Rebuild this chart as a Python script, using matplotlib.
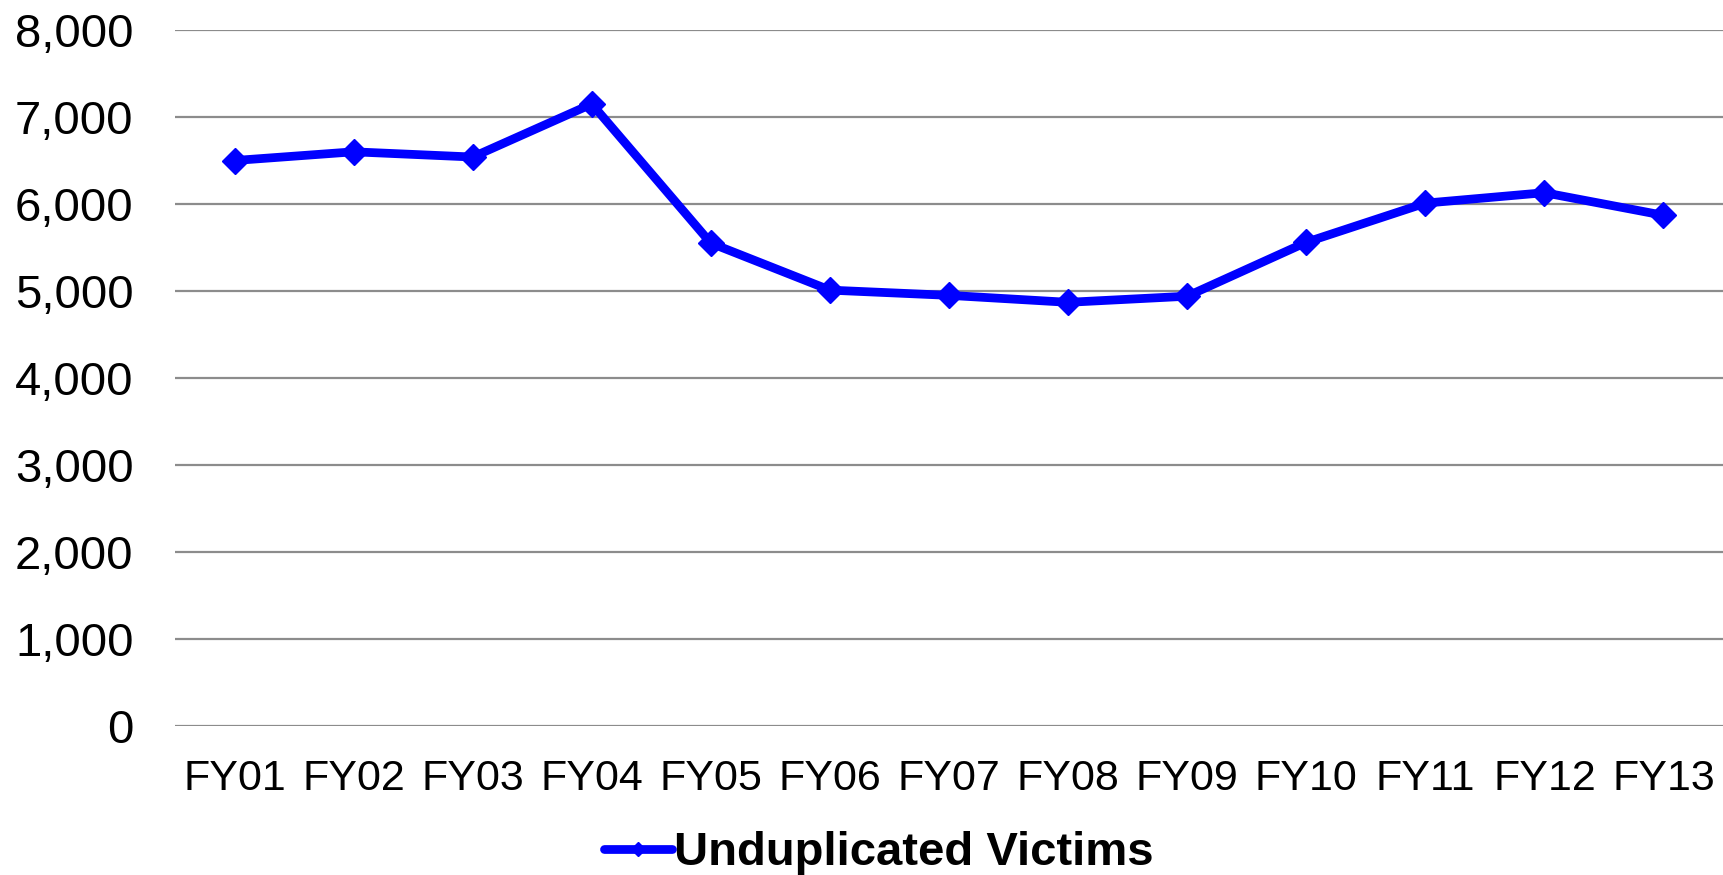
import matplotlib.pyplot as plt
from matplotlib.ticker import FuncFormatter

years = ['FY01', 'FY02', 'FY03', 'FY04', 'FY05', 'FY06', 'FY07',
         'FY08', 'FY09', 'FY10', 'FY11', 'FY12', 'FY13']
victims = [6500, 6600, 6540, 7150, 5550, 5010, 4950, 4870, 4940, 5560, 6010, 6130, 5870]

plt.rcParams['font.family'] = ['Liberation Sans', 'DejaVu Sans']

fig = plt.figure(figsize=(17.23, 8.75), dpi=100)
ax = fig.add_axes([0.1016, 0.1703, 0.8984, 0.7954])

x = list(range(len(years)))
ax.plot(x, victims, color='#0000ff', linewidth=6.3, marker='D', markersize=13.5,
        label='Unduplicated Victims', solid_joinstyle='round', solid_capstyle='round')

ax.set_xlim(-0.5, len(years) - 0.5)
ax.set_ylim(0, 8000)
ax.set_yticks(range(0, 8001, 1000))
ax.yaxis.set_major_formatter(FuncFormatter(lambda v, p: f'{int(v):,}'))
ax.set_xticks(x)
ax.set_xticklabels(years)

ax.grid(axis='y', color='#8c8c8c', linewidth=1.6)
ax.set_axisbelow(True)
for s in ax.spines.values():
    s.set_visible(False)
ax.tick_params(axis='y', length=0, pad=30, labelsize=34)
ax.tick_params(axis='x', length=0, pad=24, labelsize=31)

handles, labels = ax.get_legend_handles_labels()
fig.legend(handles, labels, loc='center', bbox_to_anchor=(0.51, 0.025), frameon=False,
           prop={'weight': 'bold', 'size': 34}, handlelength=1.45,
           handletextpad=0.05, markerscale=0.55, numpoints=1)

fig.savefig('out.png', dpi=100)
